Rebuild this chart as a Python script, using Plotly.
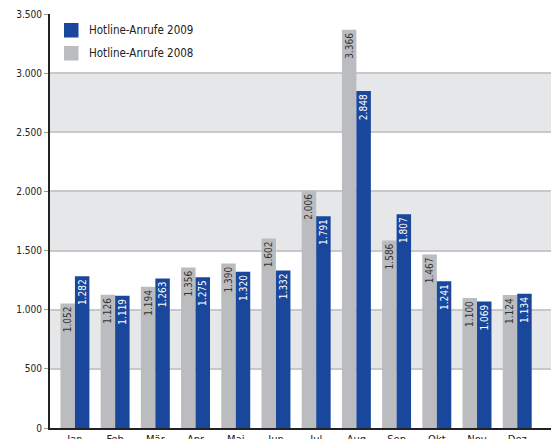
import plotly.graph_objects as go

months = ["Jan", "Feb", "Mär", "Apr", "Mai", "Jun", "Jul", "Aug", "Sep", "Okt", "Nov", "Dez"]
calls_2008 = [1052, 1126, 1194, 1356, 1390, 1602, 2006, 3366, 1586, 1467, 1100, 1124]
calls_2009 = [1282, 1119, 1263, 1275, 1320, 1332, 1791, 2848, 1807, 1241, 1069, 1134]
y_ticks = [0, 500, 1000, 1500, 2000, 2500, 3000, 3500]
bands = [(500, 1000), (1500, 2000), (2500, 3000)]
legend_names = ["Hotline-Anrufe 2009", "Hotline-Anrufe 2008"]

FONT = "Liberation Sans Narrow, DejaVu Sans Condensed, sans-serif"
BLUE = "#19479c"
GRAY = "#bbbcc0"

W, H = 551, 439
ML, MR, MT, MB = 50, 0, 14, 11
PW, PH = W - ML - MR, H - MT - MB

def fmt(v):
    return f"{v:,}".replace(",", ".")

def px_x(x):
    return (x - ML) / PW

def px_y(y):
    return (H - MB - y) / PH

fig = go.Figure()
fig.add_trace(go.Bar(
    x=months, y=calls_2008, name=legend_names[1],
    marker=dict(color=GRAY, line=dict(width=0)),
    text=[fmt(v) for v in calls_2008], textposition="inside",
    insidetextanchor="end", textangle=-90,
    textfont=dict(color="#333333", size=10, family=FONT),
))
fig.add_trace(go.Bar(
    x=months, y=calls_2009, name=legend_names[0],
    marker=dict(color=BLUE, line=dict(width=0)),
    text=[fmt(v) for v in calls_2009], textposition="inside",
    insidetextanchor="end", textangle=-90,
    textfont=dict(color="white", size=10, family=FONT),
))

for lo, hi in bands:
    fig.add_shape(type="rect", xref="paper", yref="y", x0=0, x1=1, y0=lo, y1=hi,
                  fillcolor="#e6e7e9", line=dict(width=0), layer="below")

# custom legend (larger squares like the reference)
for i, (name, col) in enumerate(zip(legend_names, [BLUE, GRAY])):
    top = 23 + i * 23
    fig.add_shape(type="rect", xref="paper", yref="paper",
                  x0=px_x(64), x1=px_x(78.5), y0=px_y(top), y1=px_y(top + 14.5),
                  fillcolor=col, line=dict(width=0))
    fig.add_annotation(xref="paper", yref="paper", x=px_x(87), y=px_y(top + 7.5),
                       xanchor="left", yanchor="middle", showarrow=False,
                       text=name, font=dict(size=11.5, family=FONT, color="#222222"))

fig.update_layout(
    width=W, height=H,
    margin=dict(l=ML, r=MR, t=MT, b=MB),
    paper_bgcolor="white", plot_bgcolor="white",
    barmode="group", bargap=0.28, bargroupgap=0,
    separators=",.",
    font=dict(family=FONT, size=11, color="#333333"),
    showlegend=False,
    uniformtext=dict(mode="show", minsize=9),
)
fig.update_xaxes(range=[-0.62, 11.84], showgrid=False, showline=True,
                 linecolor="#222222", linewidth=2, ticks="", automargin=False,
                 tickfont=dict(size=11, family=FONT, color="#222222"))
fig.update_yaxes(range=[0, 3500], tickvals=y_ticks,
                 ticktext=[fmt(v) for v in y_ticks], automargin=False,
                 showgrid=True, gridcolor="#c8c8ca", gridwidth=2,
                 showline=True, linecolor="#222222", linewidth=2,
                 ticks="outside", ticklen=4, tickcolor="#999999",
                 zeroline=False,
                 tickfont=dict(size=10, family=FONT, color="#222222"))

fig.write_html("out.html")
